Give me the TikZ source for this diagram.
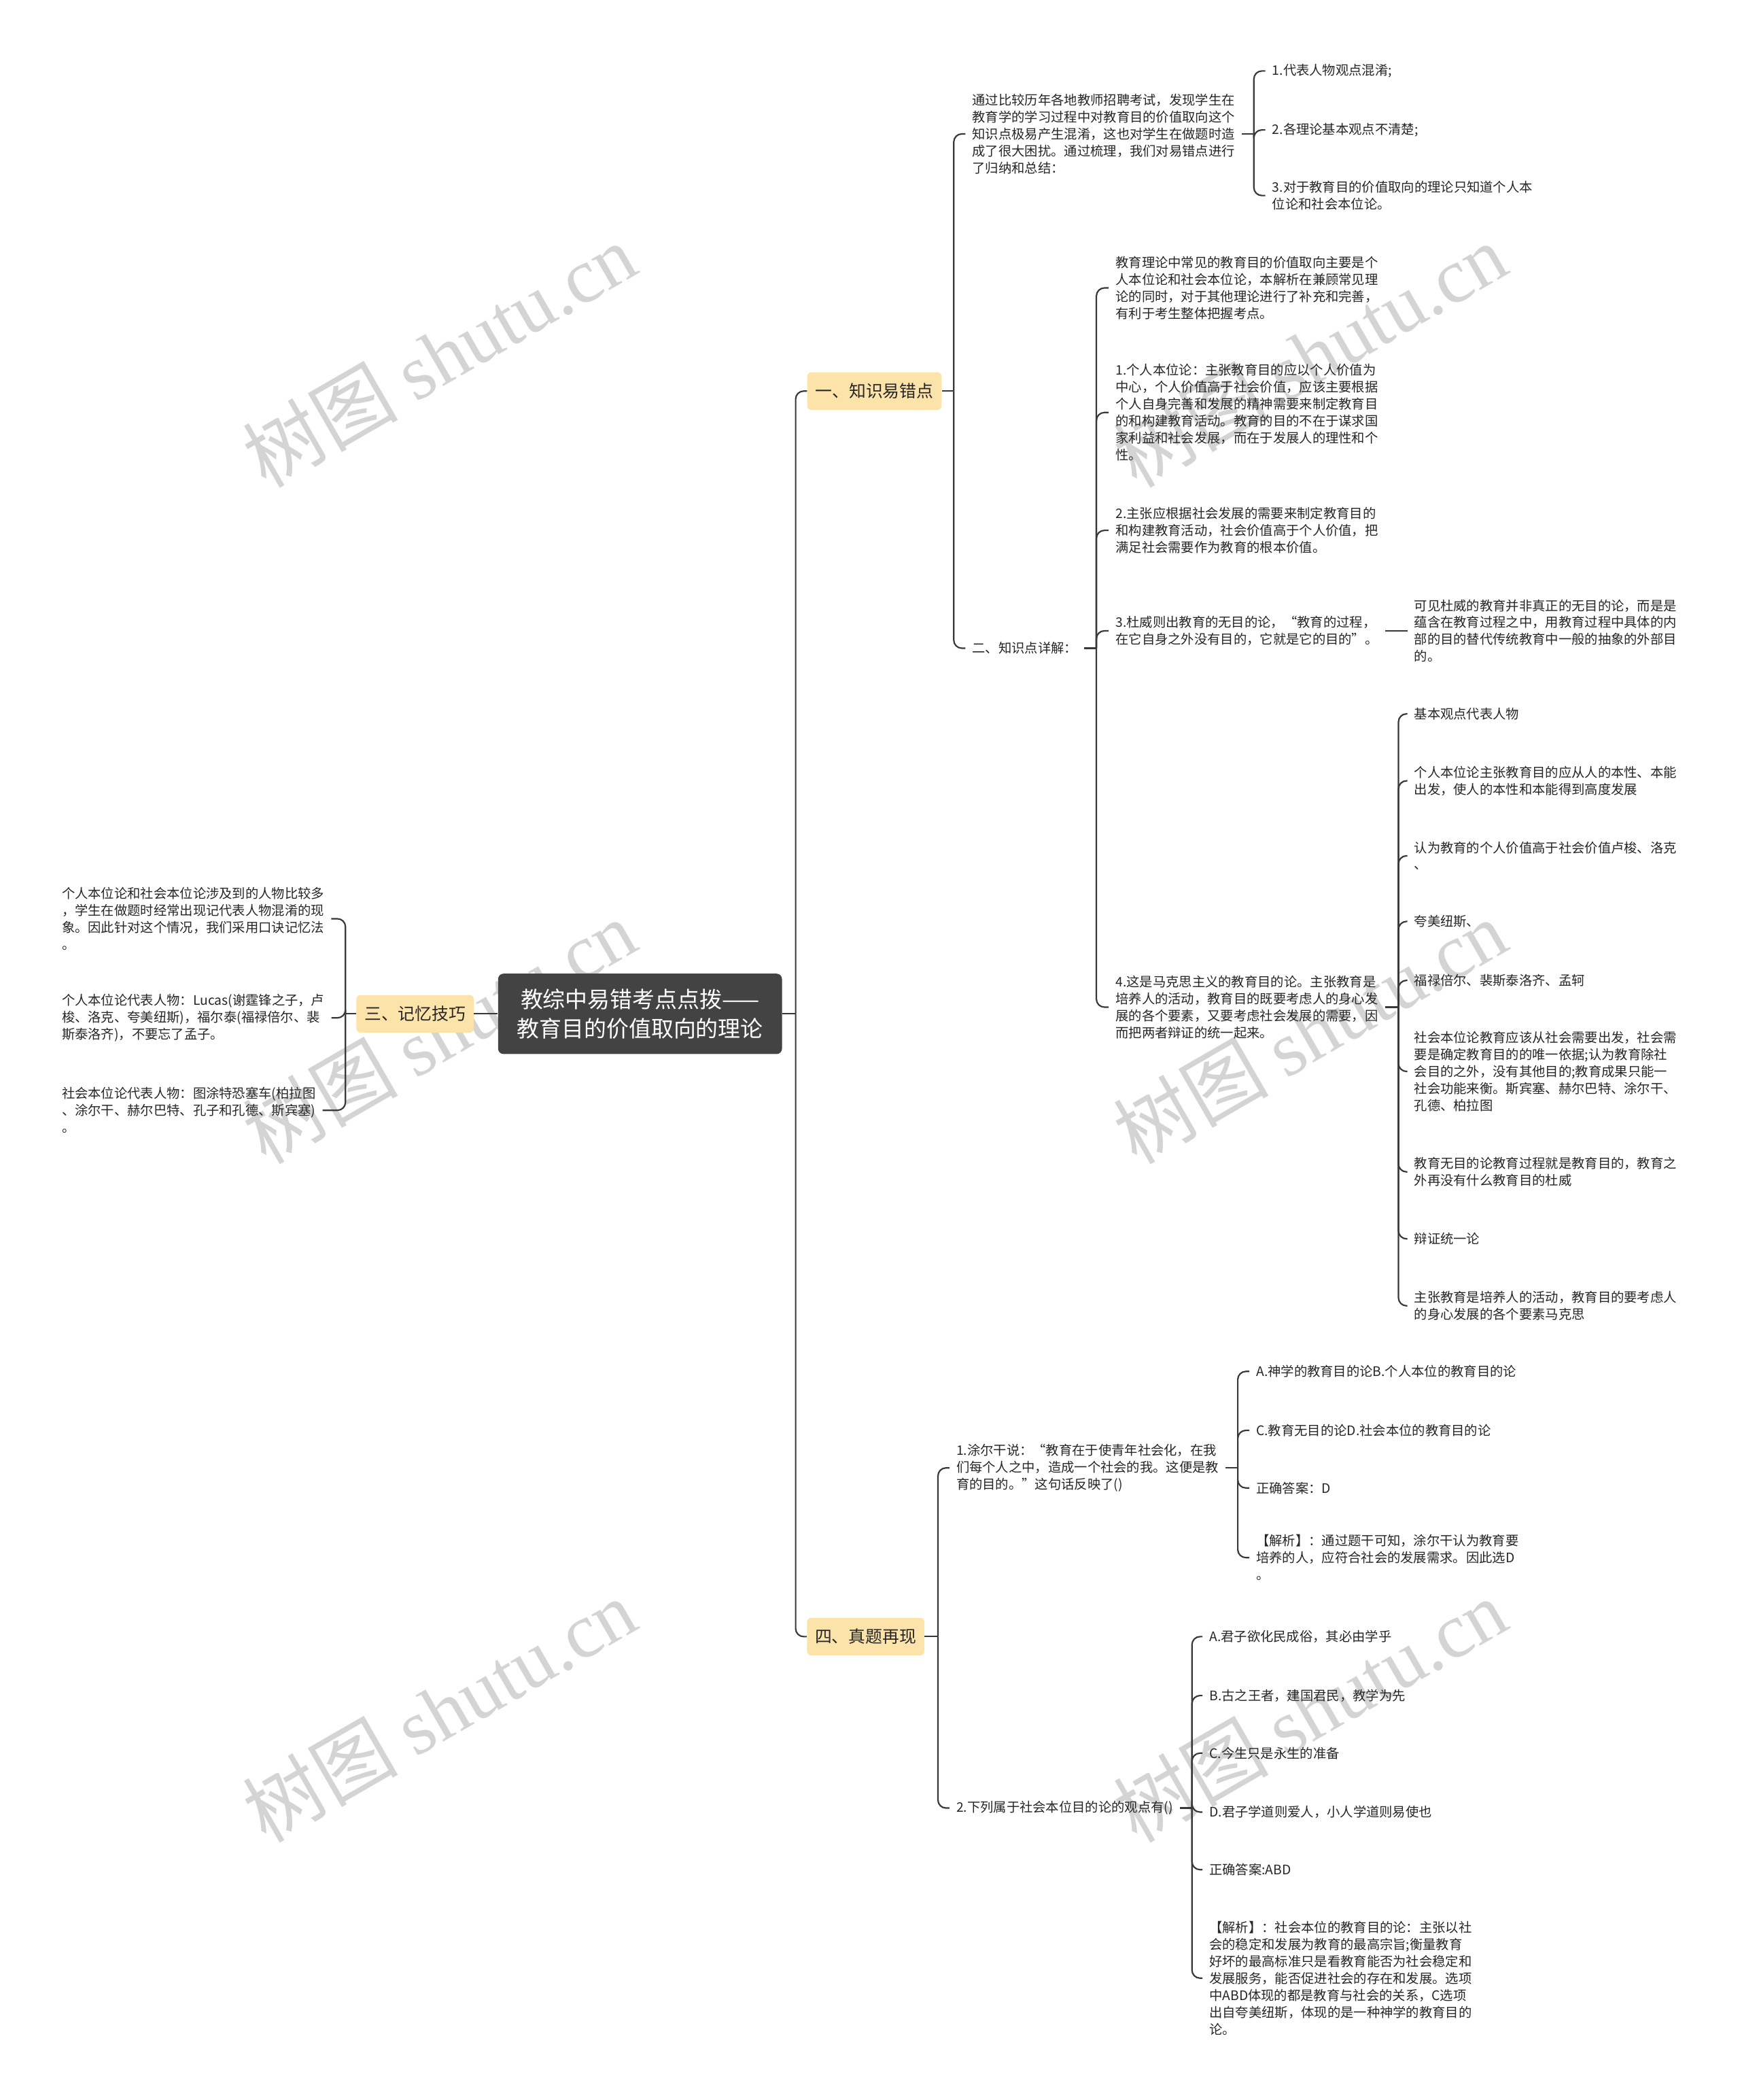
\documentclass[tikz,border=0pt]{standalone}
\usepackage{fontspec}
\setmainfont{Noto Sans CJK SC}
\newfontfamily\wmcjk{Noto Sans CJK SC}
\newfontfamily\wmlat{Liberation Serif}
\usetikzlibrary{calc}
\definecolor{rootfill}{HTML}{434343}
\definecolor{lvfill}{HTML}{FCE3A9}
\definecolor{linec}{HTML}{383838}
\definecolor{txtc}{HTML}{262626}
\definecolor{wmc}{HTML}{D4D4D4}
\begin{document}
\begin{tikzpicture}[x=1pt,y=-1pt,
  rootbox/.style={fill=rootfill, rounded corners=4pt, text=white, minimum width=212pt, minimum height=60pt, align=center, inner sep=0pt, font=\fontsize{16.7}{22}\selectfont},
  lvbox/.style={fill=lvfill, rounded corners=3pt, text=txtc, minimum height=28pt, inner xsep=6pt, inner ysep=0pt, font=\fontsize{12.6}{15}\selectfont},
  txt/.style={anchor=west, align=left, inner xsep=5pt, inner ysep=1pt, text=txtc, font=\fontsize{9.8}{12.65}\selectfont},
  conn/.style={draw=linec, line width=1.1pt, rounded corners=6pt},
  wm/.style={text=wmc, rotate=30, font=\fontsize{58}{58}\selectfont}
]
\useasboundingbox (0,0) rectangle (1299,1568);
\fill[white] (0,0) rectangle (1299,1568);
% watermarks
\node[wm] (wm1) at (328,265) {\wmcjk 树图 \wmlat shutu.cn};
\node[wm] (wm2) at (978,265) {\wmcjk 树图 \wmlat shutu.cn};
\node[wm] (wm3) at (328,770) {\wmcjk 树图 \wmlat shutu.cn};
\node[wm] (wm4) at (978,770) {\wmcjk 树图 \wmlat shutu.cn};
\node[wm] (wm5) at (328,1277) {\wmcjk 树图 \wmlat shutu.cn};
\node[wm] (wm6) at (978,1277) {\wmcjk 树图 \wmlat shutu.cn};

% root and level 1
\node[rootbox] (root) at (478,757) {教综中易错考点点拨——\\教育目的价值取向的理论};
\node[lvbox] (k1) at (653,292) {一、知识易错点};
\node[lvbox] (k4) at (646.5,1222) {四、真题再现};
\node[lvbox] (k3) at (310,757) {三、记忆技巧};

% branch 1
\node[txt] (A) at (721,100) {通过比较历年各地教师招聘考试，发现学生在\\教育学的学习过程中对教育目的价值取向这个\\知识点极易产生混淆，这也对学生在做题时造\\成了很大困扰。通过梳理，我们对易错点进行\\了归纳和总结：};
\node[txt] (A1) at (945,53) {1.代表人物观点混淆;};
\node[txt] (A2) at (945,97) {2.各理论基本观点不清楚;};
\node[txt] (A3) at (945,146) {3.对于教育目的价值取向的理论只知道个人本\\位论和社会本位论。};
\node[txt] (B) at (721,484) {二、知识点详解：};
\node[txt] (B1) at (828,215) {教育理论中常见的教育目的价值取向主要是个\\人本位论和社会本位论，本解析在兼顾常见理\\论的同时，对于其他理论进行了补充和完善，\\有利于考生整体把握考点。};
\node[txt] (B2) at (828,308) {1.个人本位论：主张教育目的应以个人价值为\\中心，个人价值高于社会价值，应该主要根据\\个人自身完善和发展的精神需要来制定教育目\\的和构建教育活动。教育的目的不在于谋求国\\家利益和社会发展，而在于发展人的理性和个\\性。};
\node[txt] (B3) at (828,396) {2.主张应根据社会发展的需要来制定教育目的\\和构建教育活动，社会价值高于个人价值，把\\满足社会需要作为教育的根本价值。};
\node[txt] (B4) at (828,471) {3.杜威则出教育的无目的论，“教育的过程，\\在它自身之外没有目的，它就是它的目的”。};
\node[txt] (C) at (1051,471) {可见杜威的教育并非真正的无目的论，而是是\\蕴含在教育过程之中，用教育过程中具体的内\\部的目的替代传统教育中一般的抽象的外部目\\的。};
\node[txt] (B5) at (828,752) {4.这是马克思主义的教育目的论。主张教育是\\培养人的活动，教育目的既要考虑人的身心发\\展的各个要素，又要考虑社会发展的需要，因\\而把两者辩证的统一起来。};
\node[txt] (D1) at (1051,533) {基本观点代表人物};
\node[txt] (D2) at (1051,583) {个人本位论主张教育目的应从人的本性、本能\\出发，使人的本性和本能得到高度发展};
\node[txt] (D3) at (1051,639) {认为教育的个人价值高于社会价值卢梭、洛克\\、};
\node[txt] (D4) at (1051,688) {夸美纽斯、};
\node[txt] (D5) at (1051,732) {福禄倍尔、裴斯泰洛齐、孟轲};
\node[txt] (D6) at (1051,800) {社会本位论教育应该从社会需要出发，社会需\\要是确定教育目的的唯一依据;认为教育除社\\会目的之外，没有其他目的;教育成果只能一\\社会功能来衡。斯宾塞、赫尔巴特、涂尔干、\\孔德、柏拉图};
\node[txt] (D7) at (1051,875) {教育无目的论教育过程就是教育目的，教育之\\外再没有什么教育目的杜威};
\node[txt] (D8) at (1051,925) {辩证统一论};
\node[txt] (D9) at (1051,975) {主张教育是培养人的活动，教育目的要考虑人\\的身心发展的各个要素马克思};

% branch 3 (left)
\node[txt] (L1) at (41,686) {个人本位论和社会本位论涉及到的人物比较多\\，学生在做题时经常出现记代表人物混淆的现\\象。因此针对这个情况，我们采用口诀记忆法\\。};
\node[txt] (L2) at (41,760) {个人本位论代表人物：Lucas(谢霆锋之子，卢\\梭、洛克、夸美纽斯)，福尔泰(福禄倍尔、裴\\斯泰洛齐)，不要忘了孟子。};
\node[txt] (L3) at (41,829) {社会本位论代表人物：图涂特恐塞车(柏拉图\\、涂尔干、赫尔巴特、孔子和孔德、斯宾塞)\\。};

% branch 4
\node[txt] (Q1) at (709,1096) {1.涂尔干说：“教育在于使青年社会化，在我\\们每个人之中，造成一个社会的我。这便是教\\育的目的。”这句话反映了()};
\node[txt] (Q1a) at (933,1024) {A.神学的教育目的论B.个人本位的教育目的论};
\node[txt] (Q1b) at (933,1068) {C.教育无目的论D.社会本位的教育目的论};
\node[txt] (Q1c) at (933,1111) {正确答案：D};
\node[txt] (Q1d) at (933,1163) {【解析】：通过题干可知，涂尔干认为教育要\\培养的人，应符合社会的发展需求。因此选D\\。};
\node[txt] (Q2) at (709,1350) {2.下列属于社会本位目的论的观点有()};
\node[txt] (Q2a) at (898,1222) {A.君子欲化民成俗，其必由学乎};
\node[txt] (Q2b) at (898,1266) {B.古之王者，建国君民，教学为先};
\node[txt] (Q2c) at (898,1309) {C.今生只是永生的准备};
\node[txt] (Q2d) at (898,1353) {D.君子学道则爱人，小人学道则易使也};
\node[txt] (Q2e) at (898,1396) {正确答案:ABD};
\node[txt] (Q2f) at (898,1477) {【解析】：社会本位的教育目的论：主张以社\\会的稳定和发展为教育的最高宗旨;衡量教育\\好坏的最高标准只是看教育能否为社会稳定和\\发展服务，能否促进社会的存在和发展。选项\\中ABD体现的都是教育与社会的关系，C选项\\出自夸美纽斯，体现的是一种神学的教育目的\\论。};

% junctions
\coordinate (jr) at ($(root.east)+(10,0)$);
\coordinate (j1) at ($(k1.east)+(9,0)$);
\coordinate (jA) at ($(A.east)+(9,0)$);
\coordinate (jB) at ($(B.east)+(9,0)$);
\coordinate (jB5) at ($(B5.east)+(10,0)$);
\coordinate (j4) at ($(k4.east)+(10,0)$);
\coordinate (jQ1) at ($(Q1.east)+(9,0)$);
\coordinate (jQ2) at ($(Q2.east)+(9,0)$);
\coordinate (j3) at ($(k3.west)+(-8,0)$);

% connectors
\draw[conn] (root.east) -- (jr);
\draw[conn] (jr) |- (k1.west);
\draw[conn] (jr) |- (k4.west);
\draw[conn] (root.west) -- (k3.east);

\draw[conn] (k1.east) -- (j1);
\draw[conn] (j1) |- (A.west);
\draw[conn] (j1) |- (B.west);

\draw[conn] (A.east) -- (jA);
\draw[conn] (jA) |- (A1.west);
\draw[conn] (jA) |- (A2.west);
\draw[conn] (jA) |- (A3.west);

\draw[conn] (B.east) -- (jB);
\draw[conn] (jB) |- (B1.west);
\draw[conn] (jB) |- (B2.west);
\draw[conn] (jB) |- (B3.west);
\draw[conn] (jB) |- (B4.west);
\draw[conn] (jB) |- (B5.west);

\draw[conn] (B4.east) -- (C.west);

\draw[conn] (B5.east) -- (jB5);
\foreach \n in {D1,D2,D3,D4,D5,D6,D7,D8,D9} {\draw[conn] (jB5) |- (\n.west);}

\draw[conn] (k3.west) -- (j3);
\draw[conn] (j3) |- (L1.east);
\draw[conn] (j3) |- (L2.east);
\draw[conn] (j3) |- (L3.east);

\draw[conn] (k4.east) -- (j4);
\draw[conn] (j4) |- (Q1.west);
\draw[conn] (j4) |- (Q2.west);

\draw[conn] (Q1.east) -- (jQ1);
\foreach \n in {Q1a,Q1b,Q1c,Q1d} {\draw[conn] (jQ1) |- (\n.west);}

\draw[conn] (Q2.east) -- (jQ2);
\foreach \n in {Q2a,Q2b,Q2c,Q2d,Q2e,Q2f} {\draw[conn] (jQ2) |- (\n.west);}
\end{tikzpicture}
\end{document}
